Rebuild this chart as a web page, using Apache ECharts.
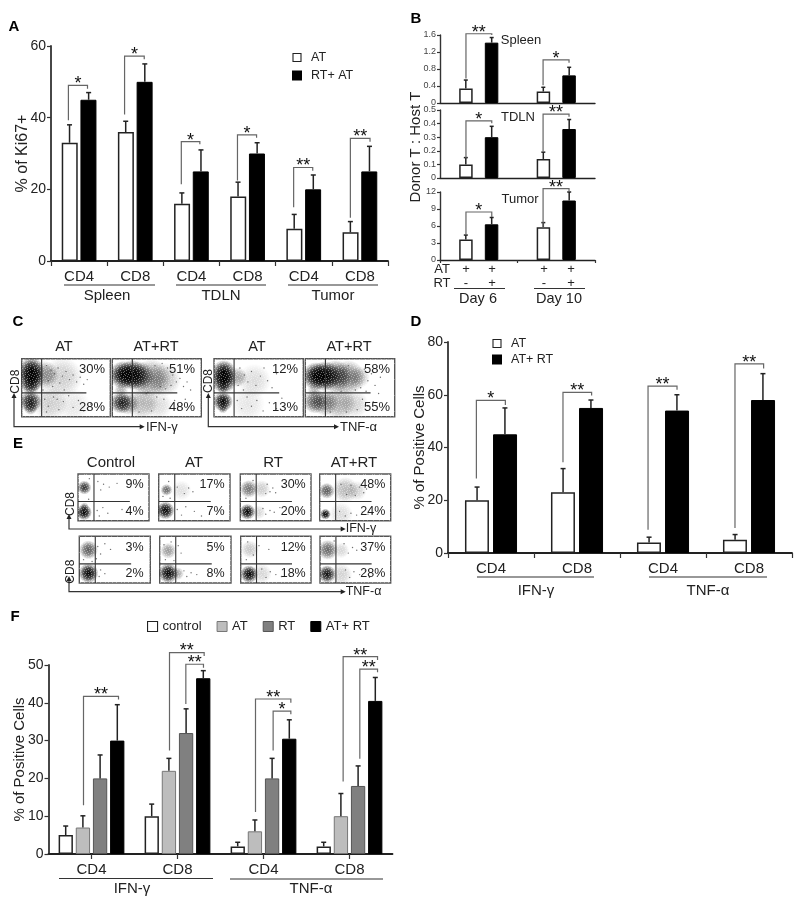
<!DOCTYPE html>
<html>
<head>
<meta charset="utf-8">
<title>Ki67 and cytokine panels</title>
<script src="https://cdn.jsdelivr.net/npm/echarts@6/dist/echarts.min.js"></script>
<style>
html, body { margin: 0; background: #fff; }
#main { width: 800px; height: 902px; }
</style>
</head>
<body>
<div id="main"></div>
<script>
// panel A
const aCats = ['CD4', 'CD8', 'CD4', 'CD8', 'CD4', 'CD8']
const aAT = [33, 36, 16, 18, 9, 8]
const aATTop = [38, 39, 19, 22, 13, 11]
const aRT = [45, 50, 25, 30, 20, 25]
const aRTTop = [47, 55, 31, 33, 24, 32]
// x0, x1, left foot, top, right foot, stars
const aBrackets = [
    [0.31, 0.65, 39.3, 49, 48.1, '*'],
    [1.31, 1.66, 40.9, 57.2, 56.3, '*'],
    [2.32, 2.65, 21.4, 33.3, 32.6, '*'],
    [3.32, 3.66, 22.5, 35.2, 34.4, '*'],
    [4.32, 4.66, 15, 26.1, 25.2, '**'],
    [5.33, 5.68, 12.1, 34.2, 33.3, '**']
]

// panel B
const bCats = ['Day 6', 'Day 10']
const bSpleenAT = [0.34, 0.27]
const bSpleenATTop = [0.54, 0.37]
const bSpleenRT = [1.42, 0.65]
const bSpleenRTTop = [1.54, 0.84]
const bSpleenBrackets = [
    [0.335, 0.668, 0.575, 1.63, 1.6, '**'],
    [1.33, 1.665, 0.418, 1.017, 0.946, '*']
]
const bTdlnAT = [0.1, 0.14]
const bTdlnATTop = [0.15, 0.19]
const bTdlnRT = [0.3, 0.36]
const bTdlnRTTop = [0.38, 0.43]
const bTdlnBrackets = [
    [0.335, 0.668, 0.146, 0.42, 0.402, '*'],
    [1.33, 1.665, 0.195, 0.47, 0.451, '**']
]
const bTumorAT = [3.6, 5.8]
const bTumorATTop = [4.4, 6.6]
const bTumorRT = [6.3, 10.5]
const bTumorRTTop = [7.5, 12]
const bTumorBrackets = [
    [0.335, 0.668, 4.35, 8.47, 7.6, '*'],
    [1.33, 1.665, 5.8, 12.6, 12, '**']
]

// panel D
const dCats = ['CD4', 'CD8', 'CD4', 'CD8']
const dAT = [20, 23, 4, 5]
const dATTop = [25, 32, 6, 7]
const dRT = [45, 55, 54, 58]
const dRTTop = [55, 58, 60, 68]
const dBrackets = [
    [0.33, 0.667, 28.2, 57.9, 56.1, '*'],
    [1.337, 1.67, 34.4, 60.9, 59.7, '**'],
    [2.326, 2.663, 8.8, 63.3, 61.9, '**'],
    [3.337, 3.67, 9.5, 71.7, 70, '**']
]

// panel F
const fCats = ['CD4', 'CD8', 'CD4', 'CD8']
const fControl = [5, 10, 2, 2]
const fControlTop = [7.4, 13.2, 3.1, 3.1]
const fAT = [7, 22, 6, 10]
const fATTop = [10.1, 25.3, 9, 16]
const fRT = [20, 32, 20, 18]
const fRTTop = [26.2, 38.4, 25.3, 23.3]
const fBoth = [30, 46.5, 30.5, 40.5]
const fBothTop = [39.5, 48.5, 35.5, 46.7]
const fBrackets = [
    [0.407, 0.814, 12.9, 41.7, 40.9, '**'],
    [1.407, 1.81, 27.4, 53.3, 52.4, '**'],
    [1.597, 1.802, 39.7, 50.2, 49.3, '**'],
    [2.407, 2.818, 11.1, 41, 40, '**'],
    [2.612, 2.818, 27.4, 37.8, 37, '*'],
    [3.426, 3.826, 19.2, 52.2, 51.3, '**'],
    [3.62, 3.826, 25.2, 48.9, 48.1, '**']
]

// dot plots: density patches [x, y, size, darkness] and single events [x, y], gate in percent of the plot
const gateX = 22.5
const gateY = 41
const gateEnd = 73

const c1Blobs = [[11, 80, 26, 1], [11, 65, 26, 1], [10, 52, 18, .6], [10, 26, 22, .9], [10, 15, 14, .5], [26, 72, 28, .45], [46, 68, 40, .2], [32, 24, 36, .2], [58, 20, 34, .1]]
const c1Dots = [[28, 88], [33, 80], [37, 74], [41, 84], [46, 70], [50, 78], [54, 64], [58, 72], [62, 60], [66, 68], [70, 56], [43, 58], [35, 52], [30, 62], [74, 64], [26, 30], [30, 18], [36, 34], [42, 12], [47, 26], [53, 36], [58, 16], [64, 28], [70, 10], [28, 8], [40, 30], [78, 22], [48, 46], [24, 46]]
const c2Blobs = [[12, 72, 28, 1], [22, 72, 30, 1], [30, 70, 30, .7], [44, 66, 38, .45], [58, 64, 34, .25], [10, 24, 22, .85], [18, 22, 22, .45], [34, 24, 32, .3], [52, 20, 28, .14], [10, 46, 14, .3]]
const c2Dots = [[62, 84], [68, 72], [72, 60], [76, 66], [80, 52], [54, 52], [60, 48], [48, 88], [66, 54], [84, 60], [40, 42], [50, 34], [58, 30], [64, 14], [70, 28], [74, 18], [44, 10], [82, 30], [30, 8], [38, 40], [88, 46], [56, 92]]
const c3Blobs = [[11, 76, 25, 1], [11, 62, 25, 1], [10, 50, 12, .45], [10, 26, 20, 1], [10, 14, 10, .45], [26, 68, 20, .35], [45, 62, 34, .14], [38, 22, 34, .1]]
const c3Dots = [[29, 84], [34, 72], [38, 60], [42, 78], [47, 54], [52, 70], [56, 84], [60, 62], [65, 50], [70, 74], [27, 54], [33, 46], [26, 28], [31, 14], [37, 34], [42, 18], [48, 28], [55, 10], [62, 24], [70, 14], [76, 32]]
const c4Blobs = [[12, 70, 28, 1], [22, 70, 30, 1], [34, 70, 32, .7], [48, 68, 34, .5], [60, 68, 22, .25], [11, 26, 24, .65], [22, 24, 26, .45], [38, 24, 34, .35], [55, 22, 28, .18], [10, 46, 14, .25]]
const c4Dots = [[66, 82], [70, 62], [74, 74], [62, 50], [56, 46], [48, 88], [78, 54], [40, 44], [30, 42], [64, 30], [70, 18], [76, 26], [46, 8], [58, 12], [28, 8], [82, 40], [68, 44], [84, 68]]

const e1Blobs = [[9, 71, 14, .8], [8.5, 18, 16, 1], [9, 30, 9, .4]]
const e1Dots = [[28, 84], [32, 66], [36, 78], [44, 72], [55, 80], [27, 22], [30, 10], [35, 28], [42, 16], [62, 24], [16, 90], [15, 46]]
const e2Blobs = [[11, 66, 12, .6], [9.5, 22, 18, 1], [32, 65, 20, .12]]
const e2Dots = [[14, 84], [26, 72], [36, 58], [42, 70], [48, 62], [26, 24], [32, 12], [38, 30], [50, 20], [60, 10], [16, 48], [6, 52]]
const e3Blobs = [[12, 68, 18, .55], [30, 68, 18, .2], [10, 19, 16, 1], [26, 18, 14, .16]]
const e3Dots = [[38, 78], [42, 62], [46, 70], [36, 58], [50, 60], [32, 26], [36, 14], [42, 22], [48, 18], [56, 28], [18, 86], [8, 48]]
const e4Blobs = [[10, 64, 16, .65], [36, 66, 26, .28], [52, 64, 20, .18], [8, 14, 11, 1], [30, 14, 24, .14]]
const e4Dots = [[30, 78], [38, 56], [44, 76], [50, 54], [56, 72], [62, 60], [66, 68], [28, 20], [36, 10], [44, 16], [52, 12], [60, 18], [68, 14], [74, 16]]
const e5Blobs = [[13, 71, 19, .65], [13, 21, 20, 1]]
const e5Dots = [[26, 78], [30, 62], [36, 84], [44, 72], [28, 14], [30, 28], [36, 20], [6, 50], [18, 46], [24, 52]]
const e6Blobs = [[12, 69, 16, .4], [12, 21, 20, 1], [25, 20, 13, .35]]
const e6Dots = [[16, 88], [26, 80], [30, 64], [34, 26], [38, 14], [44, 22], [52, 18], [8, 50], [20, 48], [6, 82]]
const e7Blobs = [[13, 72, 18, .22], [12, 19, 18, 1], [30, 20, 20, .16]]
const e7Dots = [[10, 88], [18, 60], [26, 80], [40, 72], [30, 30], [36, 12], [42, 24], [50, 18], [58, 14], [8, 50]]
const e8Blobs = [[11, 71, 20, .6], [30, 70, 16, .16], [10, 19, 18, .95], [30, 18, 22, .18]]
const e8Dots = [[34, 84], [40, 64], [46, 76], [52, 70], [36, 28], [42, 12], [48, 24], [56, 18], [64, 26], [70, 12], [20, 90]]

// grain laid over the density patches, x = pixel left open
const grainRows = [
    '..x...x..x...x..',
    'x....x.....x....',
    '..x.....x.....x.',
    '.....x......x...',
    '.x.x.....x.x....',
    '......x.......x.',
    'x...x....x..x...',
    '..x....x.....x..',
    '.....x.....x...x',
    '.x......x.......',
    '....x.x....x.x..',
    'x.........x.....',
    '...x..x.x.....x.',
    '.x.........x....',
    '.....x..x.....x.',
    '..x.x......x....'
]

const ink = '#222'
const fontFamily = '"Liberation Sans", Arial, sans-serif'
const whiteBar = { color: '#fff', borderColor: '#222', borderWidth: 1.5 }
const blackBar = { color: '#000', borderColor: '#000', borderWidth: 1 }

const grids = []
const xAxes = []
const yAxes = []
const seriesList = []
const graphics = []

function text(x, y, str, size, opts) {
    opts = opts || {}
    graphics.push({
        type: 'text',
        x: x,
        y: y,
        z: 20,
        rotation: opts.rotate ? Math.PI / 2 : 0,
        silent: true,
        style: {
            text: str,
            align: opts.align || 'center',
            verticalAlign: 'middle',
            fill: opts.color || ink,
            font: (opts.bold ? 'bold ' : '') + size + 'px ' + fontFamily
        }
    })
}

function rule(x1, y1, x2, y2) {
    graphics.push({
        type: 'line',
        silent: true,
        shape: { x1: x1, y1: y1, x2: x2, y2: y2 },
        style: { stroke: '#333', lineWidth: 1.2 }
    })
}

// L shaped axis arrows under the dot plots
function cornerArrow(x, y, topY, endX) {
    graphics.push({
        type: 'polyline',
        silent: true,
        shape: { points: [[x, topY], [x, y], [endX, y]] },
        style: { stroke: '#333', lineWidth: 1.2, fill: null }
    })
    graphics.push({
        type: 'polygon',
        silent: true,
        shape: { points: [[x - 2.5, topY + 2], [x, topY - 3], [x + 2.5, topY + 2]] },
        style: { fill: '#222' }
    })
    graphics.push({
        type: 'polygon',
        silent: true,
        shape: { points: [[endX - 2, y - 2.5], [endX + 3, y], [endX - 2, y + 2.5]] },
        style: { fill: '#222' }
    })
}

function errorSeries(xIndex, yIndex, data, capSize) {
    return {
        type: 'custom',
        xAxisIndex: xIndex,
        yAxisIndex: yIndex,
        silent: true,
        z: 3,
        data: data,
        renderItem: function (params, api) {
            const low = api.coord([api.value(0), api.value(1)])
            const high = api.coord([api.value(0), api.value(2)])
            const style = { stroke: '#222', lineWidth: 1.5 }
            return {
                type: 'group',
                children: [
                    { type: 'line', shape: { x1: low[0], y1: low[1], x2: high[0], y2: high[1] }, style: style },
                    { type: 'line', shape: { x1: high[0] - capSize, y1: high[1], x2: high[0] + capSize, y2: high[1] }, style: style }
                ]
            }
        }
    }
}

function bracketSeries(xIndex, yIndex, brackets, starSize) {
    return {
        type: 'custom',
        xAxisIndex: xIndex,
        yAxisIndex: yIndex,
        silent: true,
        z: 4,
        data: brackets.map(function (b) { return [b[0], b[3]] }),
        renderItem: function (params, api) {
            const b = brackets[params.dataIndex]
            const leftFoot = api.coord([b[0], b[2]])
            const leftTop = api.coord([b[0], b[3]])
            const rightTop = api.coord([b[1], b[3]])
            const rightFoot = api.coord([b[1], b[4]])
            return {
                type: 'group',
                children: [
                    {
                        type: 'polyline',
                        shape: { points: [leftFoot, leftTop, rightTop, rightFoot] },
                        style: { stroke: '#666', lineWidth: 1.2, fill: null }
                    },
                    {
                        type: 'text',
                        style: {
                            text: b[5],
                            x: (leftTop[0] + rightTop[0]) / 2,
                            y: leftTop[1] - 1,
                            align: 'center',
                            verticalAlign: 'middle',
                            fill: '#111',
                            font: starSize + 'px ' + fontFamily
                        }
                    }
                ]
            }
        }
    }
}

// one bar chart: category axis for the bars, hidden value x axis for whiskers and brackets
function barPanel(cfg) {
    const gridIndex = grids.length
    grids.push({ left: cfg.left, top: cfg.top, width: cfg.width, height: cfg.height, containLabel: false })
    const catIndex = xAxes.length
    xAxes.push({
        type: 'category',
        gridIndex: gridIndex,
        data: cfg.cats,
        axisLine: { lineStyle: { color: '#222', width: cfg.lineWidth || 1.8 } },
        axisTick: { show: cfg.xTick !== false, length: cfg.xTickLength || 5, alignWithLabel: !!cfg.tickOnLabel, lineStyle: { color: '#333', width: 1.2 } },
        axisLabel: { show: cfg.xLabels !== false, color: ink, fontSize: 15, margin: cfg.labelMargin || 8, interval: 0 }
    })
    const valIndex = xAxes.length
    xAxes.push({ type: 'value', gridIndex: gridIndex, min: 0, max: cfg.cats.length, show: false })
    const yIndex = yAxes.length
    yAxes.push({
        type: 'value',
        gridIndex: gridIndex,
        min: 0,
        max: cfg.max,
        interval: cfg.interval,
        name: cfg.yName,
        nameLocation: 'middle',
        nameGap: cfg.nameGap,
        nameMoveOverlap: false,
        nameTextStyle: { color: ink, fontSize: cfg.nameSize || 15 },
        splitLine: { show: false },
        axisLine: { show: true, lineStyle: { color: '#333', width: cfg.lineWidth || 1.8 } },
        axisTick: { show: true, length: cfg.yTickLength || 4, lineStyle: { color: '#333', width: 1.2 } },
        axisLabel: { color: cfg.yLabelColor || ink, fontSize: cfg.yLabelSize || 14, margin: cfg.yLabelMargin || 5 }
    })
    cfg.groups.forEach(function (g, j) {
        seriesList.push({
            name: g.name,
            type: 'bar',
            xAxisIndex: catIndex,
            yAxisIndex: yIndex,
            barWidth: cfg.barWidth,
            barGap: cfg.barGap,
            itemStyle: g.style,
            data: g.values,
            z: 2
        })
        const whiskers = g.values.map(function (v, i) {
            return [i + 0.5 + cfg.offsets[j], v, g.tops[i]]
        })
        seriesList.push(errorSeries(valIndex, yIndex, whiskers, cfg.capSize || 2.5))
    })
    seriesList.push(bracketSeries(valIndex, yIndex, cfg.brackets, cfg.starSize || 18))
}

const blobFill = {
    type: 'radial', x: 0.5, y: 0.5, r: 0.5,
    colorStops: [
        { offset: 0, color: 'rgba(0,0,0,1)' },
        { offset: 0.5, color: 'rgba(0,0,0,0.72)' },
        { offset: 1, color: 'rgba(0,0,0,0)' }
    ]
}

const grainTile = document.createElement('canvas')
grainTile.width = grainRows[0].length
grainTile.height = grainRows.length
const tileCtx = grainTile.getContext('2d')
grainRows.forEach(function (row, ty) {
    row.split('').forEach(function (cell, tx) {
        if (cell === 'x') {
            tileCtx.fillStyle = 'rgba(255,255,255,0.38)'
            tileCtx.fillRect(tx, ty, 1, 1)
        }
    })
})

// one dot plot with its box and gates
function dotPlot(x1, y1, x2, y2, blobs, dots) {
    const gridIndex = grids.length
    grids.push({ left: x1, top: y1, width: x2 - x1, height: y2 - y1, show: true, borderColor: '#555', borderWidth: 1.4, backgroundColor: '#fff' })
    const xIndex = xAxes.length
    const yIndex = yAxes.length
    xAxes.push({ type: 'value', gridIndex: gridIndex, min: 0, max: 100, show: false })
    yAxes.push({ type: 'value', gridIndex: gridIndex, min: 0, max: 100, show: false })
    seriesList.push({
        type: 'custom',
        xAxisIndex: xIndex,
        yAxisIndex: yIndex,
        silent: true,
        clip: true,
        z: 2,
        data: blobs,
        renderItem: function (params, api) {
            const c = api.coord([api.value(0), api.value(1)])
            return {
                type: 'circle',
                shape: { cx: c[0], cy: c[1], r: api.value(2) / 2 },
                style: { fill: blobFill, opacity: api.value(3) }
            }
        }
    })
    seriesList.push({
        type: 'custom',
        xAxisIndex: xIndex,
        yAxisIndex: yIndex,
        silent: true,
        z: 3,
        data: [[0, 100, 100, 0]],
        renderItem: function (params, api) {
            const a = api.coord([api.value(0), api.value(1)])
            const b = api.coord([api.value(2), api.value(3)])
            return {
                type: 'rect',
                shape: { x: a[0], y: a[1], width: b[0] - a[0], height: b[1] - a[1] },
                style: { fill: { image: grainTile, repeat: 'repeat' } }
            }
        }
    })
    seriesList.push({
        type: 'scatter',
        xAxisIndex: xIndex,
        yAxisIndex: yIndex,
        silent: true,
        z: 4,
        symbolSize: 1.4,
        itemStyle: { color: '#333', opacity: 0.7 },
        data: dots
    })
    seriesList.push({
        type: 'custom',
        xAxisIndex: xIndex,
        yAxisIndex: yIndex,
        silent: true,
        z: 5,
        data: [[gateX, gateY, gateEnd]],
        renderItem: function (params, api) {
            const top = api.coord([api.value(0), 100])
            const bottom = api.coord([api.value(0), 0])
            const start = api.coord([0, api.value(1)])
            const end = api.coord([api.value(2), api.value(1)])
            const style = { stroke: '#333', lineWidth: 1.1 }
            return {
                type: 'group',
                children: [
                    { type: 'line', shape: { x1: top[0], y1: top[1], x2: bottom[0], y2: bottom[1] }, style: style },
                    { type: 'line', shape: { x1: start[0], y1: start[1], x2: end[0], y2: end[1] }, style: style }
                ]
            }
        }
    })
}

// A
barPanel({
    left: 51, top: 46, width: 337, height: 215, max: 60, interval: 20,
    yName: '% of Ki67+', nameGap: 20, nameSize: 16,
    cats: aCats, barWidth: 16, barGap: '17%', offsets: [-0.17, 0.17], brackets: aBrackets,
    groups: [
        { name: 'AT', style: whiteBar, values: aAT, tops: aATTop },
        { name: 'RT+ AT', style: blackBar, values: aRT, tops: aRTTop }
    ]
})
text(107, 296, 'Spleen', 15)
text(221, 296, 'TDLN', 15)
text(333, 296, 'Tumor', 15)
rule(64, 285, 155, 285)
rule(176, 285, 266, 285)
rule(288, 285, 378, 285)

// B
const bShared = {
    left: 440, width: 155, cats: bCats, barWidth: 13.5, barGap: '90%', offsets: [-0.167, 0.167],
    xLabels: false, lineWidth: 1.4, yLabelSize: 9, yLabelColor: '#444', yTickLength: 3, yLabelMargin: 4,
    capSize: 2, starSize: 18
}
barPanel(Object.assign({}, bShared, {
    top: 35, height: 68, max: 1.6, interval: 0.4, xTick: false, brackets: bSpleenBrackets,
    groups: [
        { name: 'AT', style: whiteBar, values: bSpleenAT, tops: bSpleenATTop },
        { name: 'RT+ AT', style: blackBar, values: bSpleenRT, tops: bSpleenRTTop }
    ]
}))
barPanel(Object.assign({}, bShared, {
    top: 110, height: 68, max: 0.5, interval: 0.1, xTick: false, brackets: bTdlnBrackets,
    groups: [
        { name: 'AT', style: whiteBar, values: bTdlnAT, tops: bTdlnATTop },
        { name: 'RT+ AT', style: blackBar, values: bTdlnRT, tops: bTdlnRTTop }
    ]
}))
barPanel(Object.assign({}, bShared, {
    top: 192, height: 68, max: 12, interval: 3, xTickLength: 3, brackets: bTumorBrackets,
    groups: [
        { name: 'AT', style: whiteBar, values: bTumorAT, tops: bTumorATTop },
        { name: 'RT+ AT', style: blackBar, values: bTumorRT, tops: bTumorRTTop }
    ]
}))
text(416, 147, 'Donor T : Host T', 15, { rotate: true })
text(521, 40, 'Spleen', 13)
text(518, 117, 'TDLN', 13)
text(520, 199, 'Tumor', 13)
text(442, 269, 'AT', 13)
text(442, 283, 'RT', 13)
text(466, 269, '+', 13)
text(492, 269, '+', 13)
text(544, 269, '+', 13)
text(571, 269, '+', 13)
text(466, 283, '-', 13)
text(492, 283, '+', 13)
text(544, 283, '-', 13)
text(571, 283, '+', 13)
rule(454, 288.5, 505, 288.5)
rule(534, 288.5, 585, 288.5)
text(478, 299, bCats[0], 14.5)
text(559, 299, bCats[1], 14.5)

// D
barPanel({
    left: 448, top: 342, width: 344, height: 211, max: 80, interval: 20,
    yName: '% of Positive Cells', nameGap: 21,
    cats: dCats, barWidth: 24, barGap: '17%', offsets: [-0.162, 0.162], brackets: dBrackets,
    groups: [
        { name: 'AT', style: whiteBar, values: dAT, tops: dATTop },
        { name: 'AT+ RT', style: blackBar, values: dRT, tops: dRTTop }
    ]
})
rule(477, 577, 594, 577)
rule(649, 577, 767, 577)
text(536, 591, 'IFN-γ', 15)
text(708, 591, 'TNF-α', 15)

// F
barPanel({
    left: 48.5, top: 665, width: 344, height: 189, max: 50, interval: 10,
    yName: '% of Positive Cells', nameGap: 21,
    cats: fCats, barWidth: 14.3, barGap: '20%', offsets: [-0.3, -0.1, 0.1, 0.3], brackets: fBrackets, tickOnLabel: true,
    groups: [
        { name: 'control', style: whiteBar, values: fControl, tops: fControlTop },
        { name: 'AT', style: { color: '#bdbdbd', borderColor: '#777', borderWidth: 1 }, values: fAT, tops: fATTop },
        { name: 'RT', style: { color: '#808080', borderColor: '#555', borderWidth: 1 }, values: fRT, tops: fRTTop },
        { name: 'AT+ RT', style: blackBar, values: fBoth, tops: fBothTop }
    ]
})
rule(59, 878.5, 213, 878.5)
rule(230, 879, 383, 879)
text(132, 888.5, 'IFN-γ', 15)
text(311, 888.5, 'TNF-α', 15)

// C
dotPlot(21.7, 358.7, 110.3, 416.7, c1Blobs, c1Dots)
dotPlot(112.3, 358.7, 201.3, 416.7, c2Blobs, c2Dots)
dotPlot(214, 358.7, 303.3, 416.7, c3Blobs, c3Dots)
dotPlot(305.3, 358.7, 394.7, 416.7, c4Blobs, c4Dots)
text(64, 347, 'AT', 14.5)
text(156, 347, 'AT+RT', 14.5)
text(257, 347, 'AT', 14.5)
text(349, 347, 'AT+RT', 14.5)
const cPct = [['30%', '28%', 105], ['51%', '48%', 195], ['12%', '13%', 298], ['58%', '55%', 390]]
cPct.forEach(function (p) {
    text(p[2], 369, p[0], 13, { align: 'right' })
    text(p[2], 407, p[1], 13, { align: 'right' })
})
cornerArrow(14, 426.7, 396, 141.7)
cornerArrow(208.3, 426.7, 396, 336)
text(16, 381.7, 'CD8', 12, { rotate: true })
text(208.3, 381, 'CD8', 12, { rotate: true })
text(146, 427, 'IFN-γ', 13, { align: 'left' })
text(340, 427, 'TNF-α', 13, { align: 'left' })

// E
dotPlot(78, 474, 149, 520.7, e1Blobs, e1Dots)
dotPlot(158.7, 474, 230, 520.7, e2Blobs, e2Dots)
dotPlot(240.3, 474, 311, 520.7, e3Blobs, e3Dots)
dotPlot(319.7, 474, 390.7, 520.7, e4Blobs, e4Dots)
dotPlot(79.3, 536.3, 150.3, 583, e5Blobs, e5Dots)
dotPlot(159.7, 536.3, 231, 583, e6Blobs, e6Dots)
dotPlot(240.7, 536.3, 311, 583, e7Blobs, e7Dots)
dotPlot(320, 536.3, 390.7, 583, e8Blobs, e8Dots)
text(111, 463, 'Control', 15)
text(194, 463, 'AT', 15)
text(273, 463, 'RT', 15)
text(354, 463, 'AT+RT', 15)
const ePct = [
    ['9%', '4%', 143.5, '3%', '2%'], ['17%', '7%', 224.5, '5%', '8%'],
    ['30%', '20%', 305.7, '12%', '18%'], ['48%', '24%', 385.3, '37%', '28%']
]
ePct.forEach(function (p) {
    text(p[2], 485, p[0], 12.5, { align: 'right' })
    text(p[2], 511.7, p[1], 12.5, { align: 'right' })
    text(p[2], 547.7, p[3], 12.5, { align: 'right' })
    text(p[2], 574, p[4], 12.5, { align: 'right' })
})
cornerArrow(69, 529, 517, 342.7)
cornerArrow(69, 591.7, 579, 342.7)
text(70.7, 504, 'CD8', 12, { rotate: true })
text(70.7, 571.7, 'CD8', 12, { rotate: true })
text(345.7, 528.3, 'IFN-γ', 12.5, { align: 'left' })
text(345.7, 592, 'TNF-α', 12.5, { align: 'left' })

// panel letters
text(14, 27, 'A', 15, { bold: true, color: '#000' })
text(416, 19, 'B', 15, { bold: true, color: '#000' })
text(18, 322, 'C', 15, { bold: true, color: '#000' })
text(416, 322, 'D', 15, { bold: true, color: '#000' })
text(18, 444, 'E', 15, { bold: true, color: '#000' })
text(15, 617, 'F', 15, { bold: true, color: '#000' })

const legendText = { color: ink, fontSize: 12.5, padding: [0, 0, 0, 5] }
const legendWhite = { color: '#fff', borderColor: '#222', borderWidth: 1.1 }
const chart = echarts.init(document.getElementById('main'), null, { renderer: 'canvas' })
chart.setOption({
    animation: false,
    backgroundColor: '#fff',
    textStyle: { fontFamily: fontFamily },
    grid: grids,
    xAxis: xAxes,
    yAxis: yAxes,
    series: seriesList,
    legend: [
        {
            data: [{ name: 'AT', itemStyle: legendWhite }, 'RT+ AT'], orient: 'vertical', left: 292, top: 51, padding: 0,
            icon: 'rect', itemWidth: 8, itemHeight: 8, itemGap: 5, textStyle: legendText, selectedMode: false
        },
        {
            data: [{ name: 'AT', itemStyle: legendWhite }, 'AT+ RT'], orient: 'vertical', left: 492, top: 337, padding: 0,
            icon: 'rect', itemWidth: 8, itemHeight: 8, itemGap: 3, textStyle: legendText, selectedMode: false
        },
        {
            data: [
                { name: 'control', itemStyle: legendWhite },
                { name: 'AT', itemStyle: { color: '#bdbdbd', borderColor: '#777', borderWidth: 1 } },
                { name: 'RT', itemStyle: { color: '#808080', borderColor: '#555', borderWidth: 1 } },
                { name: 'AT+ RT', itemStyle: blackBar }
            ],
            orient: 'horizontal', left: 147, top: 620, padding: 0,
            icon: 'rect', itemWidth: 10, itemHeight: 10, itemGap: 15,
            textStyle: { color: ink, fontSize: 13 }, selectedMode: false
        }
    ],
    graphic: { elements: graphics }
})
</script>
</body>
</html>
